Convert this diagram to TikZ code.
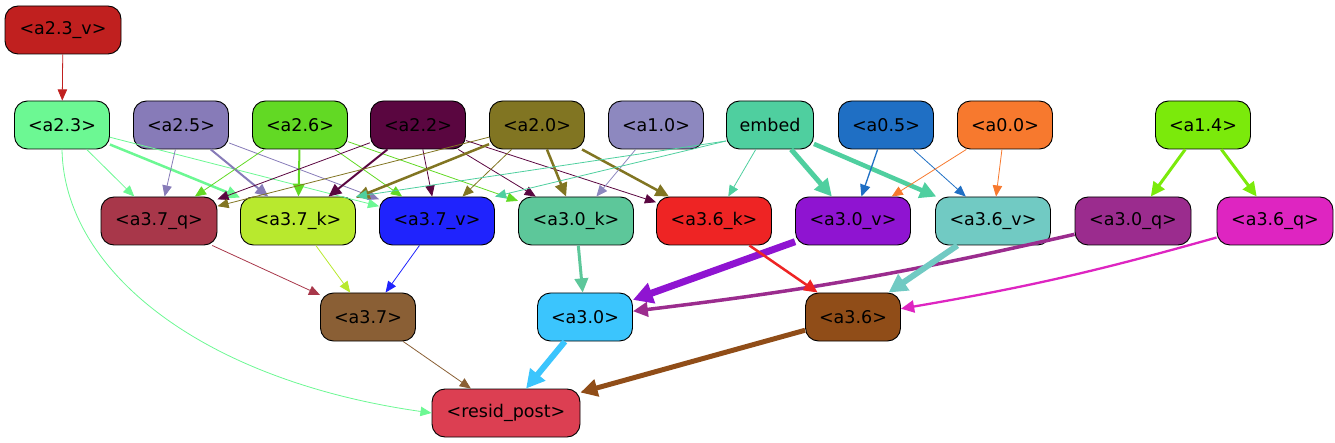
\documentclass[tikz,border=0pt]{standalone}
\usepackage{fontspec}
\setmainfont{DejaVu Sans}
\usetikzlibrary{arrows.meta}
\definecolor{c23v}{HTML}{C0201F}
\definecolor{c23}{HTML}{6CF893}
\definecolor{c25}{HTML}{877BB8}
\definecolor{c26}{HTML}{62D924}
\definecolor{c22}{HTML}{5A0640}
\definecolor{c20}{HTML}{817522}
\definecolor{c10}{HTML}{8D88BF}
\definecolor{cemb}{HTML}{4FCF9F}
\definecolor{c05}{HTML}{1F6FC4}
\definecolor{c00}{HTML}{F7792E}
\definecolor{c14}{HTML}{7BEA0B}
\definecolor{c37q}{HTML}{A8374A}
\definecolor{c37k}{HTML}{B8E92E}
\definecolor{c37v}{HTML}{1F23FD}
\definecolor{c30k}{HTML}{5DC79A}
\definecolor{c36k}{HTML}{EE2424}
\definecolor{c30v}{HTML}{8F14D1}
\definecolor{c36v}{HTML}{71CAC3}
\definecolor{c30q}{HTML}{9B2C8E}
\definecolor{c36q}{HTML}{DE25C1}
\definecolor{c37}{HTML}{8A5F35}
\definecolor{c30}{HTML}{3BC5FD}
\definecolor{c36}{HTML}{904D18}
\definecolor{cres}{HTML}{DC3F52}
\tikzset{
  nb/.style={draw=black, line width=0.9pt, rounded corners=13pt, minimum height=48pt,
    inner sep=0pt, font=\fontsize{17.5}{20}\selectfont},
  wa/.style={minimum width=95pt},
  wb/.style={minimum width=116pt},
  ed/.style={-{Triangle[length=10pt 1.4, width=8pt 1.8]}, line width=0.8pt},
}
\begin{document}
\begin{tikzpicture}[x=1pt,y=-1pt]
\useasboundingbox (0,0) rectangle (1335,443);
% row 0
\node[nb,wb,fill=c23v] (a23v) at (63,30) {<a2.3\_v>};
% row 1
\node[nb,wa,fill=c23] (a23) at (62,125) {<a2.3>};
\node[nb,wa,fill=c25] (a25) at (181,125) {<a2.5>};
\node[nb,wa,fill=c26] (a26) at (300,125) {<a2.6>};
\node[nb,wa,fill=c22] (a22) at (418,125) {<a2.2>};
\node[nb,wa,fill=c20] (a20) at (537,125) {<a2.0>};
\node[nb,wa,fill=c10] (a10) at (656,125) {<a1.0>};
\node[nb,minimum width=87pt,fill=cemb] (emb) at (770,125) {embed};
\node[nb,wa,fill=c05] (a05) at (886,125) {<a0.5>};
\node[nb,wa,fill=c00] (a00) at (1005,125) {<a0.0>};
\node[nb,wa,fill=c14] (a14) at (1203,125) {<a1.4>};
% row 2
\node[nb,wb,fill=c37q] (a37q) at (159,221) {<a3.7\_q>};
\node[nb,minimum width=115pt,fill=c37k] (a37k) at (298,221) {<a3.7\_k>};
\node[nb,minimum width=115pt,fill=c37v] (a37v) at (437,221) {<a3.7\_v>};
\node[nb,minimum width=115pt,fill=c30k] (a30k) at (576,221) {<a3.0\_k>};
\node[nb,minimum width=115pt,fill=c36k] (a36k) at (714,221) {<a3.6\_k>};
\node[nb,minimum width=115pt,fill=c30v] (a30v) at (853,221) {<a3.0\_v>};
\node[nb,minimum width=115pt,fill=c36v] (a36v) at (993,221) {<a3.6\_v>};
\node[nb,wb,fill=c30q] (a30q) at (1133,221) {<a3.0\_q>};
\node[nb,wb,fill=c36q] (a36q) at (1275,221) {<a3.6\_q>};
% row 3
\node[nb,wa,fill=c37] (a37) at (368,317) {<a3.7>};
\node[nb,wa,fill=c30] (a30) at (585,317) {<a3.0>};
\node[nb,wa,fill=c36] (a36) at (853,317) {<a3.6>};
% row 4
\node[nb,minimum width=148pt,fill=cres] (res) at (506,413) {<resid\_post>};
% edges
\draw[ed,c23v] (a23v) -- (a23);
\draw[ed,c23] (a23) -- (a37q);
\draw[ed,c23,line width=2.5pt] (a23) -- (a37k);
\draw[ed,c23] (a23) -- (a37v);
\draw[ed,c23] (a23.south) .. controls (64,270) and (200,380) .. (res.west);
\draw[ed,c25] (a25) -- (a37q);
\draw[ed,c25,line width=2pt] (a25) -- (a37k);
\draw[ed,c25] (a25) -- (a37v);
\draw[ed,c26] (a26) -- (a37q);
\draw[ed,c26,line width=2pt] (a26) -- (a37k);
\draw[ed,c26] (a26) -- (a37v);
\draw[ed,c26] (a26) -- (a30k);
\draw[ed,c22] (a22) -- (a37q);
\draw[ed,c22,line width=2pt] (a22) -- (a37k);
\draw[ed,c22] (a22) -- (a37v);
\draw[ed,c22] (a22) -- (a30k);
\draw[ed,c22] (a22) -- (a36k);
\draw[ed,c20] (a20) -- (a37q);
\draw[ed,c20,line width=2.5pt] (a20) -- (a37k);
\draw[ed,c20] (a20) -- (a37v);
\draw[ed,c20,line width=2.5pt] (a20) -- (a30k);
\draw[ed,c20,line width=2.5pt] (a20) -- (a36k);
\draw[ed,c10] (a10) -- (a30k);
\draw[ed,cemb] (emb.200) -- (a37k.north east);
\draw[ed,cemb] (emb.200) -- (a37v.north east);
\draw[ed,cemb] (emb) -- (a36k);
\draw[ed,cemb,line width=5pt] (emb) -- (a30v);
\draw[ed,cemb,line width=4.5pt] (emb) -- (a36v);
\draw[ed,c05,line width=1.3pt] (a05) -- (a30v);
\draw[ed,c05] (a05) -- (a36v);
\draw[ed,c00] (a00) -- (a30v);
\draw[ed,c00] (a00) -- (a36v);
\draw[ed,c14,line width=3pt] (a14) -- (a30q);
\draw[ed,c14,line width=3pt] (a14) -- (a36q);
\draw[ed,c37q] (a37q) -- (a37);
\draw[ed,c37k] (a37k) -- (a37);
\draw[ed,c37v] (a37v) -- (a37);
\draw[ed,c30k,line width=3pt] (a30k) -- (a30);
\draw[ed,c30v,line width=7pt] (a30v) -- (a30);
\draw[ed,c30q,line width=3.5pt] (a30q) to[bend left=3] (a30);
\draw[ed,c36k,line width=2.5pt] (a36k) -- (a36);
\draw[ed,c36v,line width=6pt] (a36v) -- (a36);
\draw[ed,c36q,line width=2.3pt] (a36q) to[bend left=3] (a36);
\draw[ed,c37] (a37) -- (res);
\draw[ed,c30,line width=6pt] (a30) -- (res);
\draw[ed,c36,line width=5pt] (a36) -- (res);
\end{tikzpicture}
\end{document}
